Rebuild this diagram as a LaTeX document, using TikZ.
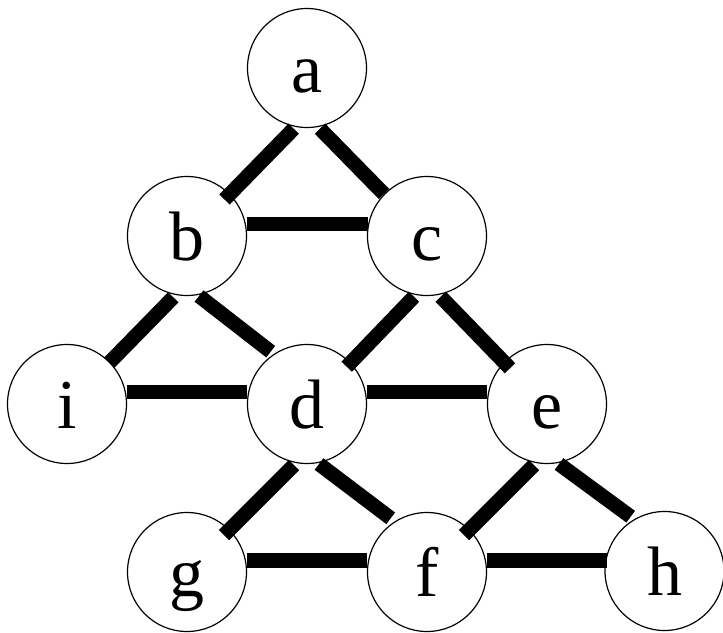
\documentclass[tikz,border=0pt]{standalone}
\usepackage{fontspec}
\setmainfont{Liberation Serif}
\usetikzlibrary{calc}
\begin{document}
\begin{tikzpicture}[x=1pt,y=-1pt,
  vert/.style={circle,draw=black,line width=1.2pt,fill=white,minimum size=119pt,inner sep=0pt,
    text height=49pt,text depth=0pt,font=\fontsize{70}{84}\selectfont},
  edge/.style={line width=14.5pt,line cap=butt,black}]
\useasboundingbox (0,0) rectangle (723,632);
\node[vert] (a) at (307,68) {a};
\node[vert] (b) at (187,236) {b};
\node[vert] (c) at (427,236) {c};
\node[vert] (i) at (67,404) {i};
\node[vert] (d) at (307,404) {d};
\node[vert] (e) at (547,404) {e};
\node[vert] (g) at (187,572) {g};
\node[vert] (f) at (427,572) {f};
\node[vert] (h) at (664.5,571) {h};
\draw[edge] ($(a)+(-13.3,60.7)$) -- ($(b)+(37.5,-36.5)$);
\draw[edge] ($(a)+(13,60.7)$) -- ($(c)+(-43,-42)$);
\draw[edge] ($(b)+(59.5,-12)$) -- ($(c)+(-59.5,-12)$);
\draw[edge] ($(b)+(-13.7,61.3)$) -- ($(i)+(42.3,-41.3)$);
\draw[edge] ($(b)+(12,60)$) -- ($(d)+(-36.3,-52.3)$);
\draw[edge] ($(i)+(59.7,-12)$) -- ($(d)+(-60.3,-12)$);
\draw[edge] ($(c)+(-13,60.7)$) -- ($(d)+(39.7,-37.3)$);
\draw[edge] ($(c)+(13.7,60.7)$) -- ($(e)+(-37,-35.7)$);
\draw[edge] ($(d)+(59.7,-12)$) -- ($(e)+(-60.3,-12)$);
\draw[edge] ($(d)+(-13,61)$) -- ($(g)+(37,-37)$);
\draw[edge] ($(d)+(12,60)$) -- ($(f)+(-36.3,-53.7)$);
\draw[edge] ($(g)+(59.7,-11.5)$) -- ($(f)+(-60.3,-11.5)$);
\draw[edge] ($(e)+(-13,61)$) -- ($(f)+(37,-37)$);
\draw[edge] ($(e)+(12,60)$) -- ($(h)+(-33.8,-54.3)$);
\draw[edge] ($(f)+(59.7,-11.5)$) -- ($(h)+(-57.8,-10.5)$);
\end{tikzpicture}
\end{document}
